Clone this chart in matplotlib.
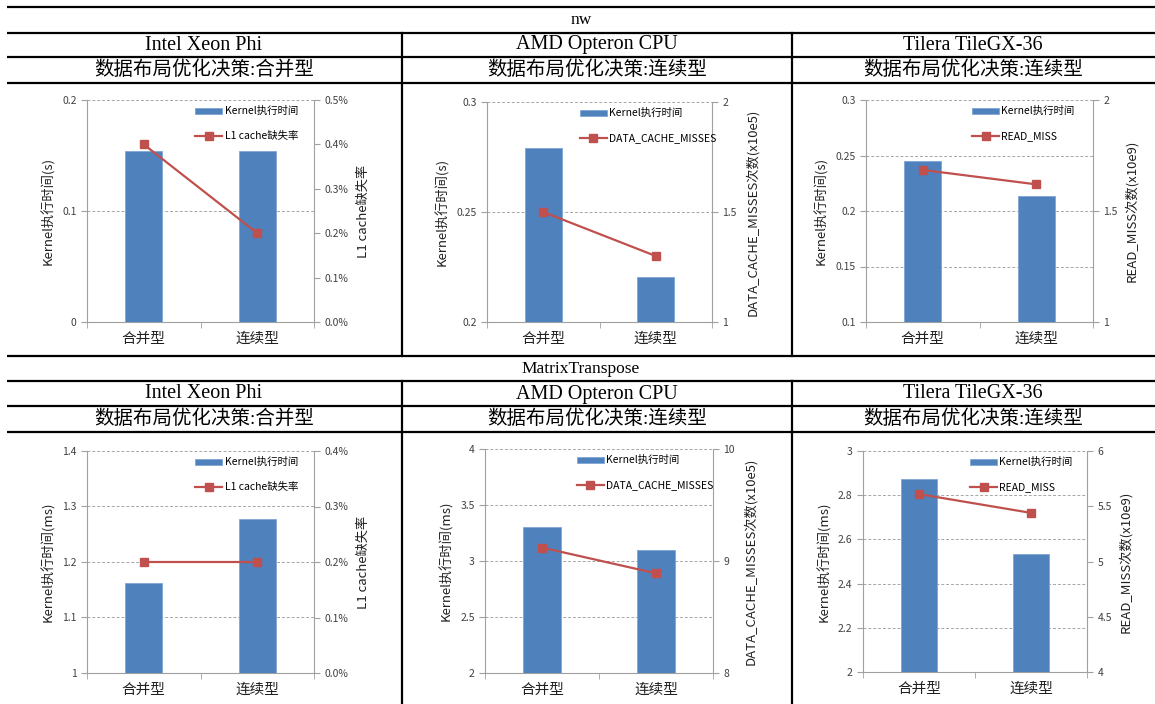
import matplotlib
matplotlib.use("Agg")
import matplotlib.pyplot as plt
from matplotlib.ticker import MultipleLocator, FormatStrFormatter, PercentFormatter, FixedLocator
from matplotlib.lines import Line2D
from matplotlib.patches import Patch

plt.rcParams['font.family'] = ['Noto Sans CJK SC', 'DejaVu Sans']

W, H = 1155, 704

categories = ['合并型', '连续型']
benchmarks = ['nw', 'MatrixTranspose']
platforms = ['Intel Xeon Phi', 'AMD Opteron CPU', 'Tilera TileGX-36']
decisions_nw = ['数据布局优化决策:合并型', '数据布局优化决策:连续型', '数据布局优化决策:连续型']
decisions_mt = ['数据布局优化决策:合并型', '数据布局优化决策:连续型', '数据布局优化决策:连续型']

# kernel time (left axis) and miss metric (right axis)
nw_intel_time = [0.154, 0.154]
nw_intel_miss = [0.004, 0.002]
nw_amd_time = [0.279, 0.2205]
nw_amd_miss = [1.5, 1.3]
nw_tilera_time = [0.245, 0.2135]
nw_tilera_miss = [1.685, 1.62]
mt_intel_time = [1.162, 1.277]
mt_intel_miss = [0.002, 0.002]
mt_amd_time = [3.3, 3.1]
mt_amd_miss = [9.12, 8.89]
mt_tilera_time = [2.873, 2.534]
mt_tilera_miss = [5.61, 5.44]

miss_names = ['L1 cache缺失率', 'DATA_CACHE_MISSES', 'READ_MISS']
right_labels = ['L1 cache缺失率', 'DATA_CACHE_MISSES次数(x10e5)', 'READ_MISS次数(x10e9)']
time_labels = ['Kernel执行时间(s)', 'Kernel执行时间(ms)']

BLUE = '#4F81BD'
RED = '#C0504D'
GRID = '#A6A6A6'
SPINE = '#A0A0A0'
TXT = '#404040'

fig = plt.figure(figsize=(W / 100, H / 100), dpi=100)

# table frame overlay in pixel coordinates
frame = fig.add_axes([0, 0, 1, 1])
frame.set_xlim(0, W)
frame.set_ylim(H, 0)
frame.axis('off')
for y in [7, 33, 57, 83, 356, 381, 406, 432]:
    frame.plot([7, W], [y, y], color='black', lw=1.6, solid_capstyle='butt')
for x in [402, 792]:
    frame.plot([x, x], [33, 356], color='black', lw=1.6)
    frame.plot([x, x], [381, H], color='black', lw=1.6)

serif = ['Liberation Serif', 'Noto Sans CJK SC']
col_centers = [204, 597, 973]
frame.text(581, 20, benchmarks[0], ha='center', va='center', fontsize=12.5, family=serif)
frame.text(581, 369, benchmarks[1], ha='center', va='center', fontsize=12.5, family=serif)
for cx, p, d1, d2 in zip(col_centers, platforms, decisions_nw, decisions_mt):
    frame.text(cx, 45, p, ha='center', va='center', fontsize=14.5, family=serif)
    frame.text(cx, 70, d1, ha='center', va='center', fontsize=14, family=serif)
    frame.text(cx, 394, p, ha='center', va='center', fontsize=14.5, family=serif)
    frame.text(cx, 419, d2, ha='center', va='center', fontsize=14, family=serif)

# panel layout: (left, right, top, bottom) in pixels
panels = [
    dict(box=(87, 314, 100, 322), t=nw_intel_time, m=nw_intel_miss, yl=(0, 0.2, 0.1),
         yr=(0, 0.005, 0.001), pct=True, kind=0, unit=0, leg=0.45, rpad=6),
    dict(box=(487, 712, 102, 322), t=nw_amd_time, m=nw_amd_miss, yl=(0.2, 0.3, 0.05),
         yr=(1, 2, 0.5), pct=False, kind=1, unit=0, leg=0.385, rpad=6),
    dict(box=(866, 1093, 100, 322), t=nw_tilera_time, m=nw_tilera_miss, yl=(0.1, 0.3, 0.05),
         yr=(1, 2, 0.5), pct=False, kind=2, unit=0, leg=0.44, rpad=5),
    dict(box=(87, 314, 451, 673), t=mt_intel_time, m=mt_intel_miss, yl=(1, 1.4, 0.1),
         yr=(0, 0.004, 0.001), pct=True, kind=0, unit=1, leg=0.45, rpad=6),
    dict(box=(485, 713, 449, 673), t=mt_amd_time, m=mt_amd_miss, yl=(2, 4, 0.5),
         yr=(8, 10, 1), pct=False, kind=1, unit=1, leg=0.375, rpad=6),
    dict(box=(863, 1087, 451, 672), t=mt_tilera_time, m=mt_tilera_miss, yl=(2, 3, 0.2),
         yr=(4, 6, 0.5), pct=False, kind=2, unit=1, leg=0.45, rpad=5),
]

x = [0, 1]
for p in panels:
    l, r, t, b = p['box']
    ax = fig.add_axes([l / W, 1 - b / H, (r - l) / W, (b - t) / H])
    ax.bar(x, p['t'], width=0.33, color=BLUE, edgecolor='#7FA7D6', linewidth=0.6, zorder=3)
    ax.set_xlim(-0.5, 1.5)
    ax.set_ylim(p['yl'][0], p['yl'][1])
    ax.yaxis.set_major_locator(MultipleLocator(p['yl'][2]))
    ax.yaxis.set_major_formatter(FormatStrFormatter('%g'))
    ax.grid(axis='y', color=GRID, ls=(0, (3, 2)), lw=0.7, zorder=0)
    ax.set_xticks(x)
    ax.set_xticklabels(categories, fontsize=10.5, color='#202020')
    ax.xaxis.set_minor_locator(FixedLocator([-0.5, 0.5, 1.5]))
    ax.tick_params(axis='x', which='major', length=0, pad=7)
    ax.tick_params(axis='x', which='minor', length=4, color=SPINE, direction='out')
    ax.tick_params(axis='y', length=4, color=SPINE, labelsize=7.5, labelcolor=TXT)
    for s in ['top', 'right']:
        ax.spines[s].set_visible(False)
    for s in ['left', 'bottom']:
        ax.spines[s].set_color(SPINE)
    ax.set_ylabel(time_labels[p['unit']], fontsize=9.5, color='#202020', labelpad=5)

    ax2 = ax.twinx()
    ax2.plot(x, p['m'], color=RED, lw=1.6, marker='s', markersize=6, zorder=4)
    ax2.set_ylim(p['yr'][0], p['yr'][1])
    ax2.yaxis.set_major_locator(MultipleLocator(p['yr'][2]))
    if p['pct']:
        ax2.yaxis.set_major_formatter(PercentFormatter(xmax=1, decimals=1))
    else:
        ax2.yaxis.set_major_formatter(FormatStrFormatter('%g'))
    ax2.tick_params(axis='y', length=4, color=SPINE, labelsize=7.5, labelcolor=TXT)
    for s in ['top', 'left', 'bottom']:
        ax2.spines[s].set_visible(False)
    ax2.spines['right'].set_color(SPINE)
    ax2.set_ylabel(right_labels[p['kind']], fontsize=9.5, color='#202020',
                   rotation=90, labelpad=p['rpad'])

    handles = [Patch(facecolor=BLUE, edgecolor='#7FA7D6', lw=0.6),
               Line2D([0], [0], color=RED, lw=1.6, marker='s', markersize=6)]
    ax2.legend(handles, ['Kernel执行时间', miss_names[p['kind']]], loc='upper left',
               bbox_to_anchor=(p['leg'], 1.0), frameon=False, fontsize=7.5,
               handlelength=2.6, handleheight=0.5, labelspacing=1.4, handletextpad=0.2,
               borderaxespad=0.2)

fig.savefig('out.png', dpi=100)
